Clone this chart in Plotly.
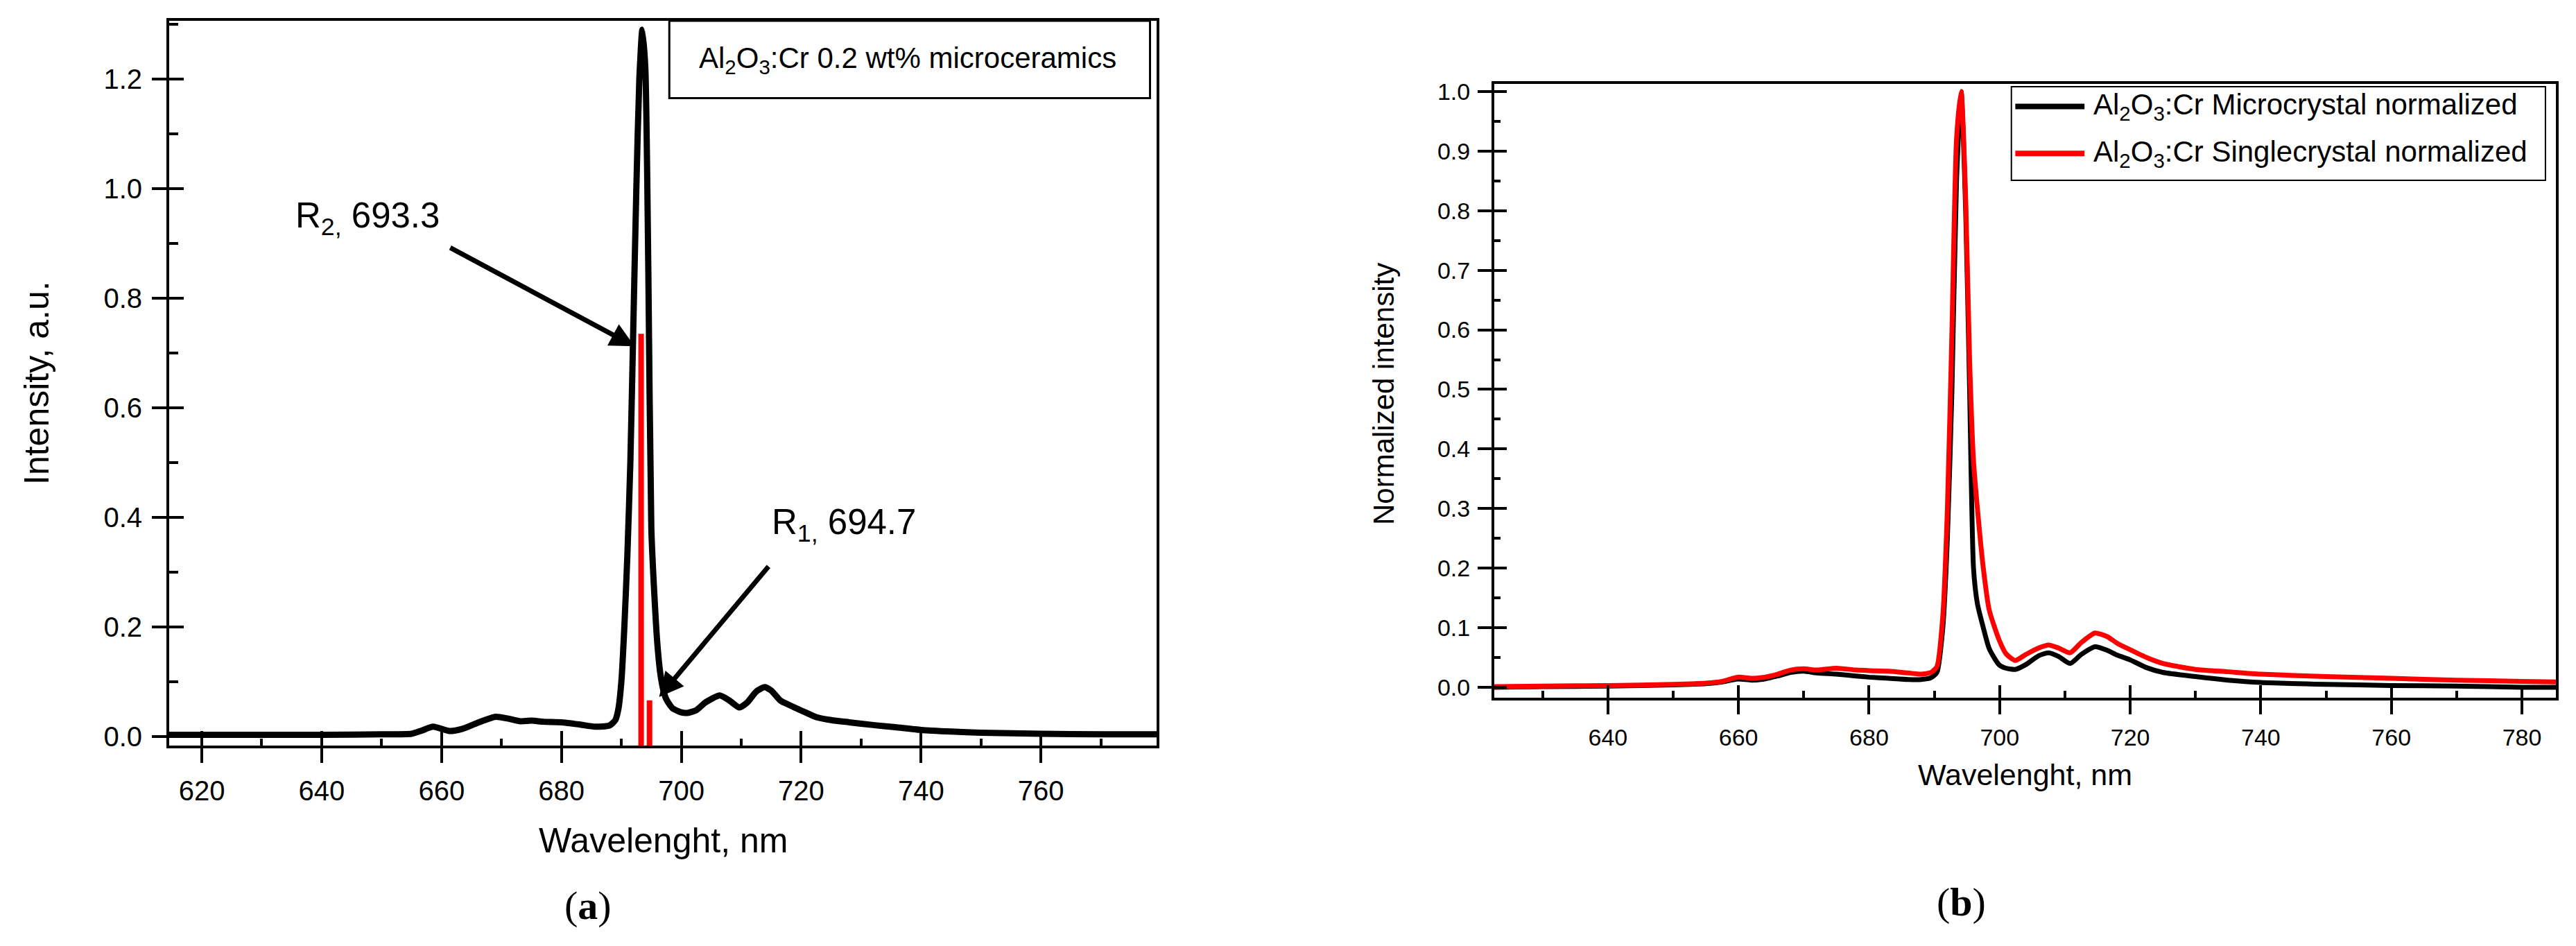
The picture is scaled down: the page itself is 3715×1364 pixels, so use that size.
import plotly.graph_objects as go

W, H = 3715, 1364

# ---------------- Panel (a) data ----------------
wl_a = [614.5, 620, 630, 640, 650, 655, 656.5, 658.6, 661.3, 663.5, 666, 669, 671, 673, 675,
        677, 680, 683, 685.6, 688, 689, 689.5, 690, 690.5, 691, 691.5, 692, 692.5, 693, 693.5,
        694, 694.5, 695, 695.5, 696, 696.5, 697, 697.5, 698.5, 700, 701, 702.5, 704, 706.4,
        708, 709.7, 711, 712.5, 713.9, 715, 716.5, 718.5, 720.5, 722.6, 725, 728, 732, 735.7,
        740, 745, 750, 760, 770, 779.5]
int_a = [0.003, 0.003, 0.003, 0.003, 0.004, 0.005, 0.010, 0.018, 0.010, 0.014, 0.025, 0.036,
         0.033, 0.028, 0.029, 0.027, 0.026, 0.022, 0.018, 0.020, 0.030, 0.050, 0.100, 0.200,
         0.330, 0.500, 0.750, 1.000, 1.200, 1.290, 1.220, 0.850, 0.380, 0.260, 0.170, 0.115,
         0.085, 0.068, 0.052, 0.044, 0.043, 0.048, 0.062, 0.075, 0.066, 0.053, 0.062, 0.082,
         0.090, 0.084, 0.066, 0.055, 0.045, 0.035, 0.030, 0.026, 0.021, 0.017, 0.012, 0.009,
         0.007, 0.005, 0.004, 0.004]
r_lines_pos = [693.3, 694.7]
r_lines_int = [0.735, 0.066]
r_labels = ["R<sub>2,</sub> 693.3", "R<sub>1,</sub> 694.7"]

# ---------------- Panel (b) data ----------------
wl_b = [622.6, 630, 640, 650, 655, 657.5, 659.9, 662, 664, 666, 668, 670, 672, 675, 678, 680,
        683, 686, 688, 689.5, 690.4, 691.3, 692, 692.7, 693.4, 694.1, 694.8, 695.4, 696, 696.6,
        697.5, 698.4, 699.9, 701, 702.4, 704, 706, 707.5, 709, 710.8, 712.5, 714.6, 716.5, 718,
        720, 722.5, 725, 730, 735, 740, 750, 760, 770, 780, 785.2]
micro_b = [0.000, 0.001, 0.002, 0.004, 0.006, 0.009, 0.014, 0.012, 0.014, 0.019, 0.025, 0.027,
           0.024, 0.022, 0.019, 0.017, 0.015, 0.013, 0.013, 0.016, 0.025, 0.100, 0.250, 0.500,
           0.850, 1.000, 0.800, 0.500, 0.200, 0.140, 0.100, 0.065, 0.038, 0.032, 0.030, 0.038,
           0.053, 0.058, 0.052, 0.040, 0.055, 0.068, 0.062, 0.054, 0.046, 0.033, 0.025, 0.018,
           0.012, 0.008, 0.005, 0.003, 0.002, 0.000, 0.000]
single_b = [0.001, 0.002, 0.003, 0.005, 0.007, 0.010, 0.017, 0.015, 0.017, 0.022, 0.029, 0.031,
            0.029, 0.032, 0.029, 0.028, 0.027, 0.024, 0.022, 0.025, 0.035, 0.120, 0.300, 0.600,
            0.920, 1.000, 0.820, 0.550, 0.380, 0.300, 0.200, 0.130, 0.080, 0.056, 0.045, 0.055,
            0.066, 0.071, 0.066, 0.058, 0.075, 0.091, 0.085, 0.074, 0.063, 0.050, 0.040, 0.030,
            0.026, 0.022, 0.018, 0.015, 0.012, 0.010, 0.009]
legend_b = ["Al<sub>2</sub>O<sub>3</sub>:Cr Microcrystal normalized",
            "Al<sub>2</sub>O<sub>3</sub>:Cr Singlecrystal normalized"]

xa_ticks = [620, 640, 660, 680, 700, 720, 740, 760]
ya_ticks = [0.0, 0.2, 0.4, 0.6, 0.8, 1.0, 1.2]
xb_ticks = [640, 660, 680, 700, 720, 740, 760, 780]
yb_ticks = [0.0, 0.1, 0.2, 0.3, 0.4, 0.5, 0.6, 0.7, 0.8, 0.9, 1.0]

XA_RANGE = [614.56, 779.3]
YA_RANGE = [-0.0165, 1.306]
XB_RANGE = [622.6, 785.2]
YB_RANGE = [-0.0175, 1.0128]

FONT = "Liberation Sans, Arial, sans-serif"
SERIF = "Liberation Serif, Times New Roman, serif"


def px(v):
    return v / W


def py(v):
    return 1 - v / H


dom_xa = [px(236), px(1660)]
dom_ya = [py(1067), py(22)]
dom_xb = [px(2147), px(3678)]
dom_yb = [py(998), py(113)]

fig = go.Figure()

# Panel (a) spectrum
fig.add_trace(go.Scatter(x=wl_a, y=int_a, mode="lines", xaxis="x", yaxis="y",
                         line=dict(color="black", width=9, shape="spline", smoothing=0.6),
                         showlegend=False, hoverinfo="skip"))
# red stick lines
sx, sy = [], []
for p, v in zip(r_lines_pos, r_lines_int):
    sx += [p, p, None]
    sy += [YA_RANGE[0], v, None]
fig.add_trace(go.Scatter(x=sx, y=sy, mode="lines", xaxis="x", yaxis="y",
                         line=dict(color="#ff0000", width=8), showlegend=False, hoverinfo="skip"))

# Panel (b)
fig.add_trace(go.Scatter(x=wl_b, y=micro_b, mode="lines", xaxis="x2", yaxis="y2",
                         line=dict(color="black", width=7, shape="spline", smoothing=0.6),
                         showlegend=False, hoverinfo="skip"))
fig.add_trace(go.Scatter(x=wl_b, y=single_b, mode="lines", xaxis="x2", yaxis="y2",
                         line=dict(color="#ff0000", width=7, shape="spline", smoothing=0.6),
                         showlegend=False, hoverinfo="skip"))

# dummy traces to materialise inward-tick overlay axes
for xa, ya in [("x3", "y"), ("x", "y3"), ("x4", "y2"), ("x2", "y4")]:
    fig.add_trace(go.Scatter(x=[None], y=[None], xaxis=xa, yaxis=ya, showlegend=False,
                             hoverinfo="skip"))


def main_axis(dom, rng, tickvals, fmt, fsize, ticklen, minor_dtick, minor_len, anchor, standoff):
    return dict(domain=dom, range=rng, anchor=anchor, tickmode="array", tickvals=tickvals,
                tickformat=fmt, ticks="outside", ticklen=ticklen, tickwidth=4, tickcolor="black",
                showline=True, linecolor="black", linewidth=4, mirror=True,
                showgrid=False, zeroline=False, automargin=False,
                tickfont=dict(family=FONT, size=fsize, color="black"),
                ticklabelstandoff=standoff,
                minor=dict(ticks="inside", ticklen=minor_len, tickwidth=4, tickcolor="black",
                           dtick=minor_dtick, tick0=0, showgrid=False))


def inner_axis(dom, rng, tickvals, overlay, anchor, ticklen):
    return dict(domain=dom, range=rng, anchor=anchor, overlaying=overlay, tickmode="array",
                tickvals=tickvals, ticks="inside", ticklen=ticklen, tickwidth=4,
                tickcolor="black", showticklabels=False, showline=False, showgrid=False,
                zeroline=False, automargin=False)


layout = dict(
    width=W, height=H, margin=dict(l=0, r=0, t=0, b=0),
    paper_bgcolor="white", plot_bgcolor="white", showlegend=False,
    xaxis=main_axis(dom_xa, XA_RANGE, xa_ticks, "d", 40, 21, 10, 10, "y", 6),
    yaxis=main_axis(dom_ya, YA_RANGE, ya_ticks, ".1f", 40, 21, 0.1, 13, "x", 6),
    xaxis2=main_axis(dom_xb, XB_RANGE, xb_ticks, "d", 34, 20, 10, 10, "y2", 4),
    yaxis2=main_axis(dom_yb, YB_RANGE, yb_ticks, ".1f", 34, 20, 0.05, 9, "x2", 4),
    xaxis3=inner_axis(dom_xa, XA_RANGE, xa_ticks, "x", "y", 21),
    yaxis3=inner_axis(dom_ya, YA_RANGE, ya_ticks, "y", "x", 21),
    xaxis4=inner_axis(dom_xb, XB_RANGE, xb_ticks, "x2", "y2", 18),
    yaxis4=inner_axis(dom_yb, YB_RANGE, yb_ticks, "y2", "x2", 18),
)
fig.update_layout(**layout)

shapes = []
annotations = []

# Panel (a) text box
shapes.append(dict(type="rect", xref="x", yref="y", x0=698.0, x1=778.2, y0=1.165,
                   y1=YA_RANGE[1], line=dict(color="black", width=3), layer="above"))
annotations.append(dict(xref="x", yref="y", x=702.7, y=1.234, xanchor="left", yanchor="middle",
                        text="Al<sub>2</sub>O<sub>3</sub>:Cr 0.2 wt% microceramics",
                        showarrow=False, font=dict(family=FONT, size=42, color="black")))

# R labels and arrows
annotations.append(dict(xref="x", yref="y", x=635.4, y=0.946, xanchor="left", yanchor="middle",
                        text=r_labels[0], showarrow=False,
                        font=dict(family=FONT, size=51, color="black")))
annotations.append(dict(xref="x", yref="y", x=714.9, y=0.387, xanchor="left", yanchor="middle",
                        text=r_labels[1], showarrow=False,
                        font=dict(family=FONT, size=51, color="black")))
annotations.append(dict(xref="x", yref="y", x=692.2, y=0.712, axref="x", ayref="y",
                        ax=661.1, ay=0.894, text=" ", showarrow=True, arrowhead=2,
                        arrowsize=1.0, arrowwidth=7, arrowcolor="black"))
annotations.append(dict(xref="x", yref="y", x=696.3, y=0.072, axref="x", ayref="y",
                        ax=714.9, ay=0.315, text=" ", showarrow=True, arrowhead=2,
                        arrowsize=1.0, arrowwidth=7, arrowcolor="black"))

# Panel (b) legend
shapes.append(dict(type="rect", xref="x2", yref="y2", x0=701.8, x1=783.6, y0=0.851, y1=1.008,
                   line=dict(color="black", width=2), layer="above"))
leg_y = [0.975, 0.896]
leg_col = ["black", "#ff0000"]
for yy, cc, tt in zip(leg_y, leg_col, legend_b):
    shapes.append(dict(type="line", xref="x2", yref="y2", x0=702.4, x1=713.0, y0=yy, y1=yy,
                       line=dict(color=cc, width=8), layer="above"))
    annotations.append(dict(xref="x2", yref="y2", x=714.2, y=yy, xanchor="left",
                            yanchor="middle", text=tt, showarrow=False,
                            font=dict(family=FONT, size=42, color="black")))

# Axis titles
annotations.append(dict(xref="paper", yref="paper", x=px(948), y=py(1204), xanchor="center",
                        yanchor="middle", text="Wavelenght, nm", showarrow=False,
                        font=dict(family=FONT, size=50, color="black")))
annotations.append(dict(xref="paper", yref="paper", x=px(45), y=py(544), xanchor="center",
                        yanchor="middle", text="Intensity, a.u.", textangle=-90,
                        showarrow=False, font=dict(family=FONT, size=50, color="black")))
annotations.append(dict(xref="paper", yref="paper", x=px(2912), y=py(1109), xanchor="center",
                        yanchor="middle", text="Wavelenght, nm", showarrow=False,
                        font=dict(family=FONT, size=43, color="black")))
annotations.append(dict(xref="paper", yref="paper", x=px(1987), y=py(560), xanchor="center",
                        yanchor="middle", text="Normalized intensity", textangle=-90,
                        showarrow=False, font=dict(family=FONT, size=42, color="black")))

# Sub-figure captions
annotations.append(dict(xref="paper", yref="paper", x=px(840), y=py(1297), xanchor="center",
                        yanchor="middle", text="(<b>a</b>)", showarrow=False,
                        font=dict(family=SERIF, size=58, color="black")))
annotations.append(dict(xref="paper", yref="paper", x=px(2820), y=py(1292), xanchor="center",
                        yanchor="middle", text="(<b>b</b>)", showarrow=False,
                        font=dict(family=SERIF, size=58, color="black")))

fig.update_layout(shapes=shapes, annotations=annotations)
fig.write_html("out.html")
